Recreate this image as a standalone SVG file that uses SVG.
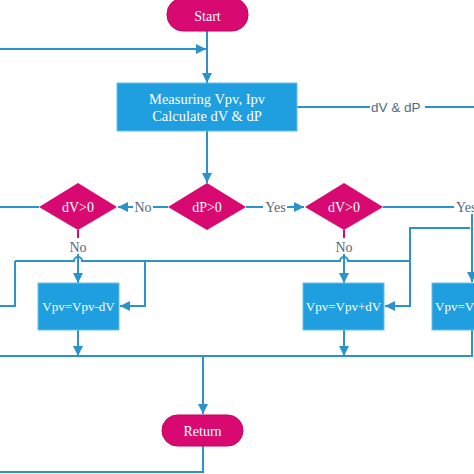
<svg xmlns="http://www.w3.org/2000/svg" width="474" height="474" viewBox="0 0 474 474">
<style>
.ln{fill:none;stroke:#2b93cb;stroke-width:2}
.term{fill:#d80a72;stroke:#c2005f;stroke-width:1}
.dia{fill:#d80a72}
.box{fill:#1f9ee0;stroke:#6cc0ea;stroke-width:1}
.t{font-family:"Liberation Serif","Times New Roman",serif;fill:#ffffff;text-anchor:middle}
.lbl{font-family:"Liberation Serif","Times New Roman",serif;fill:#52697c;font-size:14px;text-anchor:middle}
.sans{font-family:"Liberation Sans",Arial,sans-serif;fill:#4d6c82;font-size:13.5px}
</style>
<defs>
<marker id="ar" markerUnits="userSpaceOnUse" markerWidth="12" markerHeight="12" viewBox="0 0 12 12" refX="11" refY="6" orient="auto">
<path d="M1,1 L11,6 L1,11 Z" fill="#2b93cb"/>
</marker>
</defs>
<g id="connectors">
<path class="ln" d="M207,31 V83" marker-end="url(#ar)"/>
<path class="ln" d="M0,49 H206" marker-end="url(#ar)"/>
<path class="ln" d="M297,107 H370"/>
<path class="ln" d="M425,107 H474"/>
<text class="sans" x="371" y="112">dV &amp; dP</text>
<path class="ln" d="M207,131 V183" marker-end="url(#ar)"/>
<path class="ln" d="M168,207 H153"/>
<text class="lbl" x="143" y="212">No</text>
<path class="ln" d="M133,207 H118" marker-end="url(#ar)"/>
<path class="ln" d="M246,207 H263"/>
<text class="lbl" x="275.500" y="212">Yes</text>
<path class="ln" d="M287,207 H304" marker-end="url(#ar)"/>
<path class="ln" d="M39,207 H0"/>
<path class="ln" d="M383,207 H454"/>
<text class="lbl" x="456" y="212" text-anchor="start" style="text-anchor:start">Yes</text>
<path class="ln" d="M78,230 V238" style="stroke:#d80a72"/>
<text class="lbl" x="78" y="252">No</text>
<path class="ln" d="M78,254 V283" marker-end="url(#ar)"/>
<path class="ln" d="M344,230 V238" style="stroke:#d80a72"/>
<text class="lbl" x="344" y="252">No</text>
<path class="ln" d="M344,254 V283" marker-end="url(#ar)"/>
<path class="ln" d="M15,261 H74 a4,4 0 0 1 8,0 H340 a4,4 0 0 1 8,0 H410"/>
<path class="ln" d="M15,261 V306 H0"/>
<path class="ln" d="M145,261 V306 H120" marker-end="url(#ar)"/>
<path class="ln" d="M470,228 H410 V306 H385" marker-end="url(#ar)"/>
<path class="ln" d="M472,214 V282" marker-end="url(#ar)"/>
<path class="ln" d="M78,330 V356" marker-end="url(#ar)"/>
<path class="ln" d="M344,330 V356" marker-end="url(#ar)"/>
<path class="ln" d="M472,330 V356"/>
<path class="ln" d="M0,356 H473"/>
<path class="ln" d="M203,356 V414" marker-end="url(#ar)"/>
<path class="ln" d="M203,446 V472 H0"/>
</g>
<g id="start">
<rect class="term" x="167" y="-2" width="81" height="33" rx="16"/>
<text class="t" x="207.500" y="21" font-size="14" fill="#f8e6f0">Start</text>
</g>
<g id="measure">
<rect class="box" x="117" y="83" width="180" height="48"/>
<text class="t" x="207" y="104" font-size="14.500">Measuring Vpv, Ipv</text>
<text class="t" x="207" y="121" font-size="14.500">Calculate dV &amp; dP</text>
</g>
<g id="dp">
<polygon class="dia" points="207,183 246,207 207,230 168,207"/>
<text class="t" x="207" y="212" font-size="14">dP&gt;0</text>
</g>
<g id="dv-left">
<polygon class="dia" points="78,183 117,207 78,230 39,207"/>
<text class="t" x="78" y="212" font-size="14">dV&gt;0</text>
</g>
<g id="dv-right">
<polygon class="dia" points="344,183 383,207 344,230 305,207"/>
<text class="t" x="344" y="212" font-size="14">dV&gt;0</text>
</g>
<g id="dec-left">
<rect class="box" x="38" y="283" width="81" height="47"/>
<text class="t" x="78.500" y="311" font-size="13">Vpv=Vpv-dV</text>
</g>
<g id="inc-mid">
<rect class="box" x="303" y="283" width="81" height="47"/>
<text class="t" x="343.500" y="311" font-size="13">Vpv=Vpv+dV</text>
</g>
<g id="box-right">
<rect class="box" x="432" y="283" width="81" height="47"/>
<text class="t" x="435" y="311" font-size="13" style="text-anchor:start">Vpv=Vpv-dV</text>
</g>
<g id="return">
<rect class="term" x="162" y="415" width="81" height="31" rx="15.500"/>
<text class="t" x="202.500" y="436" font-size="14" fill="#f8e6f0">Return</text>
</g>
</svg>
